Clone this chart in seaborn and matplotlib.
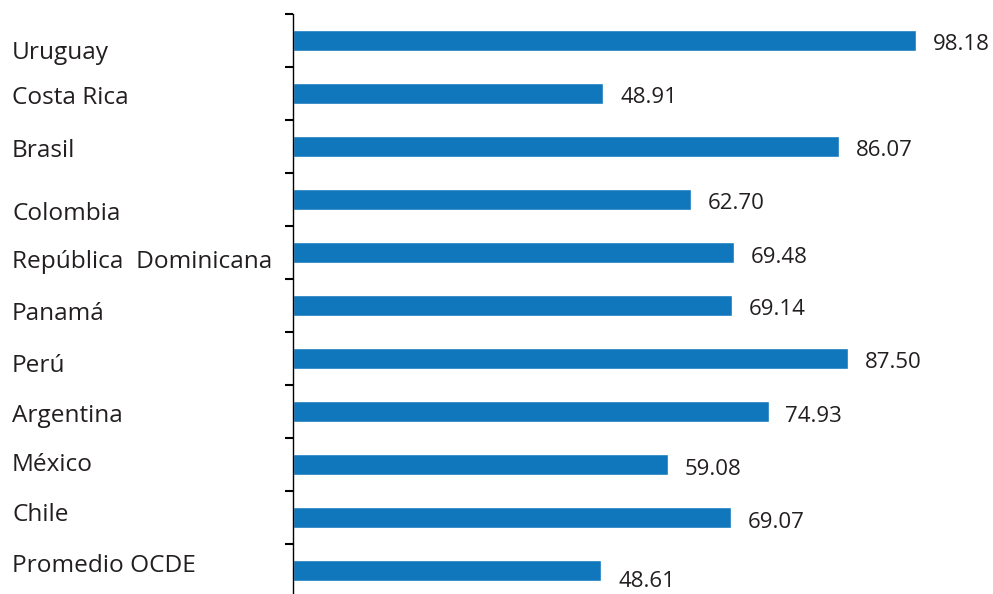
import matplotlib
matplotlib.use("Agg")
import matplotlib.pyplot as plt
import matplotlib.transforms as mtransforms
import seaborn as sns
import pandas as pd
import numpy as np

countries = ["Uruguay", "Costa Rica", "Brasil", "Colombia", "República  Dominicana",
             "Panamá", "Perú", "Argentina", "México", "Chile", "Promedio OCDE"]
values = [98.18, 48.91, 86.07, 62.70, 69.48, 69.14, 87.50, 74.93, 59.08, 69.07, 48.61]
value_labels = ["98.18", "48.91", "86.07", "62.70", "69.48", "69.14", "87.50",
                "74.93", "59.08", "69.07", "48.61"]

# baseline offsets (in category units) of the text labels, as laid out in the original
name_offsets = [0.35, 0.20, 0.20, 0.39, 0.30, 0.27, 0.25, 0.19, 0.12, 0.06, 0.02]
value_offsets = [0.18, 0.17, 0.175, 0.175, 0.2, 0.175, 0.175, 0.195, 0.195, 0.195, 0.32]

sns.set_theme(style="white")
plt.rcParams["font.family"] = ["Open Sans", "DejaVu Sans"]

df = pd.DataFrame({"country": countries, "value": values})

fig = plt.figure(figsize=(9.93, 5.94), dpi=100)
ax = fig.add_axes([293 / 993, -3 / 594, 700 / 993, 583 / 594])

bar_color = "#1177BD"
text_color = "#231F20"
sns.barplot(data=df, y="country", x="value", orient="h", color=bar_color,
            width=0.41, ax=ax, saturation=1)

ax.set_xlim(0, 110.3)
ax.set_ylim(len(countries) - 0.5, -0.5)
ax.set_xlabel("")
ax.set_ylabel("")
ax.set_xticks([])

for s in ["top", "right", "bottom"]:
    ax.spines[s].set_visible(False)
ax.spines["left"].set_color("black")
ax.spines["left"].set_linewidth(1.0)

# no labels on the major ticks; category names drawn as texts
ax.set_yticks(range(len(countries)))
ax.set_yticklabels([])
ax.tick_params(axis="y", which="major", length=0)

# minor ticks at boundaries between categories
ax.set_yticks(np.arange(-0.5, len(countries) - 0.5, 1.0), minor=True)
ax.tick_params(axis="y", which="minor", length=6, width=1.5, color="black", left=True)

trans = mtransforms.blended_transform_factory(fig.transFigure, ax.transData)
for i, (name, off) in enumerate(zip(countries, name_offsets)):
    ax.text(12 / 993, i + off, name, transform=trans, ha="left", va="baseline",
            fontsize=17.6, color=text_color, clip_on=False)

for i, (v, t, off) in enumerate(zip(values, value_labels, value_offsets)):
    ax.text(v + 2.63, i + off, t, va="baseline", ha="left", fontsize=16,
            color=text_color, clip_on=False)

fig.savefig("out.png", dpi=100)
